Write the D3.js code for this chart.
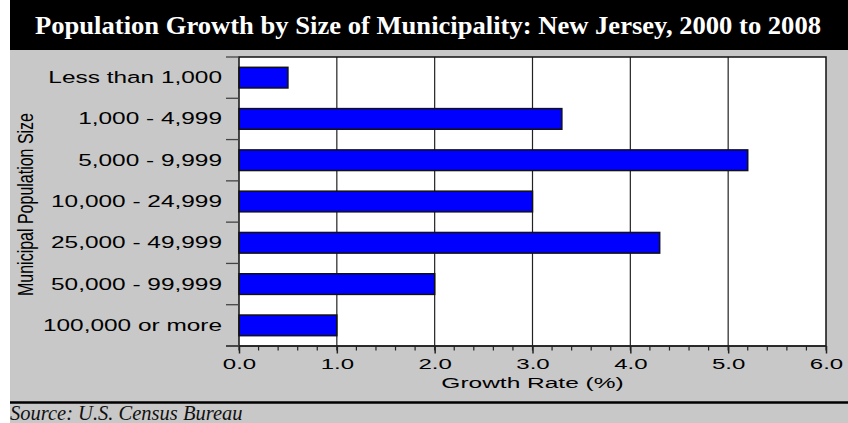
<!DOCTYPE html>
<html>
<head>
<meta charset="utf-8">
<script src="https://cdn.jsdelivr.net/npm/d3@7"></script>
<style>
  html, body { margin: 0; padding: 0; background: #ffffff; }
  svg { display: block; }
</style>
</head>
<body>
<div id="chart"></div>
<script>
const title = "Population Growth by Size of Municipality: New Jersey, 2000 to 2008";
const categories = ["Less than 1,000", "1,000 - 4,999", "5,000 - 9,999", "10,000 - 24,999", "25,000 - 49,999", "50,000 - 99,999", "100,000 or more"];
const growthRates = [0.5, 3.3, 5.2, 3.0, 4.3, 2.0, 1.0];
const xTicks = [0, 1, 2, 3, 4, 5, 6];
const xMinorTicks = d3.range(0, 6.0001, 0.2);
const xTitle = "Growth Rate (%)";
const yTitle = "Municipal Population Size";
const source = "Source: U.S. Census Bureau";

(function () {
const W = 848, H = 423;
const svg = d3.select("#chart").append("svg").attr("width", W).attr("height", H);

// backgrounds
svg.append("rect").attr("x", 10).attr("y", 0).attr("width", W - 10).attr("height", H).attr("fill", "#c8c8c8");
svg.append("rect").attr("x", 10).attr("y", 0).attr("width", W - 10).attr("height", 50).attr("fill", "#000");
svg.append("text").attr("x", 35).attr("y", 33.5)
  .attr("font-family", "'Liberation Serif', 'Times New Roman', serif")
  .attr("font-weight", "bold").attr("font-size", 25).attr("fill", "#fff")
  .attr("textLength", 786).attr("lengthAdjust", "spacingAndGlyphs")
  .text(title);

const pL = 239, pR = 826, pT = 57, pB = 346;
const x = d3.scaleLinear().domain([0, 6]).range([pL, pR]);
const y = d3.scaleBand().domain(categories).range([pT, pB]).paddingInner(0.5).paddingOuter(0.25);

// horizontal glyph stretch around the text's own origin
function hscale(sel, factor) {
  sel.each(function() {
    const t = d3.select(this);
    const x0 = +(t.attr("x") || 0);
    t.attr("x", x0 / factor).attr("transform", `scale(${factor},1)`);
  });
}

// plot area
svg.append("rect").attr("x", pL).attr("y", pT).attr("width", pR - pL).attr("height", pB - pT).attr("fill", "#fff");

// gridlines
svg.append("g").selectAll("line").data(xTicks.slice(1, -1)).join("line")
  .attr("x1", d => x(d)).attr("x2", d => x(d)).attr("y1", pT).attr("y2", pB)
  .attr("stroke", "#222").attr("stroke-width", 1.2);

// bars
svg.append("g").selectAll("rect").data(categories).join("rect")
  .attr("x", x(0)).attr("y", d => y(d))
  .attr("width", (d, i) => x(growthRates[i]) - x(0))
  .attr("height", y.bandwidth())
  .attr("fill", "#0000ff").attr("stroke", "#111").attr("stroke-width", 1.5);

// frame
svg.append("rect").attr("x", pL).attr("y", pT).attr("width", pR - pL).attr("height", pB - pT)
  .attr("fill", "none").attr("stroke", "#111").attr("stroke-width", 1.5);

// x axis minor ticks
svg.append("g").selectAll("line").data(xMinorTicks).join("line")
  .attr("x1", d => x(d)).attr("x2", d => x(d)).attr("y1", pB).attr("y2", pB + 4.5)
  .attr("stroke", "#222").attr("stroke-width", 1.2);

// x axis
const xAxis = svg.append("g").attr("transform", `translate(0,${pB})`)
  .call(d3.axisBottom(x).tickValues(xTicks).tickFormat(d3.format(".1f")).tickSize(7.5).tickPadding(5));
xAxis.select(".domain").remove();
xAxis.selectAll(".tick line").attr("stroke", "#222").attr("stroke-width", 1.5);
xAxis.selectAll(".tick text")
  .attr("font-family", "'Liberation Sans', Arial, sans-serif").attr("font-size", 15.5).attr("fill", "#000")
  .attr("dy", null).attr("y", 23.5);
hscale(xAxis.selectAll(".tick text"), 1.55);
svg.append("line").attr("x1", 226).attr("x2", pR).attr("y1", pB).attr("y2", pB)
  .attr("stroke", "#222").attr("stroke-width", 1.5);

// y boundary ticks
const bounds = d3.range(categories.length + 1).map(i => pT + i * (pB - pT) / categories.length);
svg.append("g").selectAll("line").data(bounds).join("line")
  .attr("x1", 226).attr("x2", pL).attr("y1", d => d).attr("y2", d => d)
  .attr("stroke", "#444").attr("stroke-width", 1.3);

// y axis labels
const yAxis = svg.append("g").attr("transform", `translate(${pL},0)`)
  .call(d3.axisLeft(y).tickSize(0).tickPadding(17));
yAxis.select(".domain").remove();
yAxis.selectAll(".tick text")
  .attr("font-family", "'Liberation Sans', Arial, sans-serif").attr("font-size", 17.2).attr("fill", "#000");
hscale(yAxis.selectAll(".tick text"), 1.42);

// axis titles
const xtg = svg.append("g").attr("transform", `translate(${(pL + pR) / 2},388)`);
const xt = xtg.append("text").attr("x", 0).attr("y", 0).attr("text-anchor", "middle")
  .attr("font-family", "'Liberation Sans', Arial, sans-serif").attr("font-size", 15.5).attr("fill", "#000")
  .text(xTitle);
hscale(xt, 1.58);

const ytg = svg.append("g").attr("transform", `translate(33,${(pT + pB) / 2 + 3}) rotate(-90)`);
const yt = ytg.append("text").attr("x", 0).attr("y", 0).attr("text-anchor", "middle")
  .attr("font-family", "'Liberation Sans', Arial, sans-serif").attr("font-size", 22).attr("fill", "#000")
  .text(yTitle);
const ytw = yt.node().getComputedTextLength();
hscale(yt, 183 / ytw);

// footer
svg.append("line").attr("x1", 10).attr("x2", W).attr("y1", 402.5).attr("y2", 402.5)
  .attr("stroke", "#000").attr("stroke-width", 2.5);
svg.append("text").attr("x", 10).attr("y", 420)
  .attr("font-family", "'Liberation Serif', 'Times New Roman', serif").attr("font-style", "italic")
  .attr("font-size", 20.5).attr("fill", "#111")
  .text(source);
})();
</script>
</body>
</html>
